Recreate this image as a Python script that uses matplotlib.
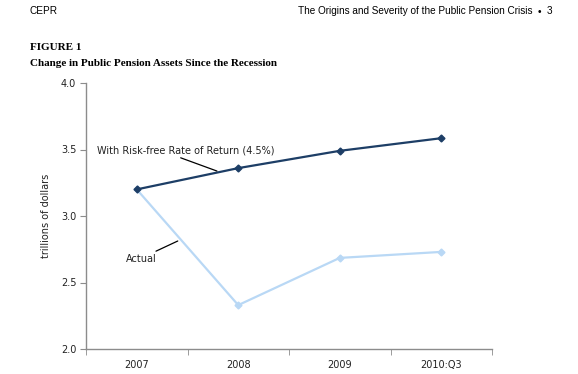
import matplotlib
matplotlib.use("Agg")
import matplotlib.pyplot as plt

years = ["2007", "2008", "2009", "2010:Q3"]
risk_free = [3.20, 3.36, 3.49, 3.585]
actual = [3.20, 2.33, 2.685, 2.73]
y_ticks = [2.0, 2.5, 3.0, 3.5, 4.0]

DARK = "#1d3e66"
LIGHT = "#b9d8f5"
AXIS = "#8c8c8c"

fig = plt.figure(figsize=(5.78, 3.74), dpi=100)
ax = fig.add_axes([86 / 578, 1 - 349 / 374, 406 / 578, 266 / 374])

x = list(range(len(years)))
ax.plot(x, actual, color=LIGHT, lw=1.6, marker="D", ms=3.5, mec=LIGHT, zorder=2)
ax.plot(x, risk_free, color=DARK, lw=1.6, marker="D", ms=3.5, mec=DARK, zorder=3)

ax.set_xlim(-0.5, len(years) - 0.5)
ax.set_ylim(2.0, 4.0)
ax.set_yticks(y_ticks)
ax.set_yticklabels([f"{v:.1f}" for v in y_ticks])
ax.set_xticks(x)
ax.set_xticklabels(years)
ax.set_xticks([i - 0.5 for i in range(len(years) + 1)], minor=True)
ax.tick_params(axis="x", which="major", length=0, pad=8)
ax.tick_params(axis="x", which="minor", length=4, color=AXIS, direction="out")
ax.tick_params(axis="y", length=4, color=AXIS, direction="out", pad=3)
ax.tick_params(labelsize=7, labelcolor="#222222")
for s in ["top", "right"]:
    ax.spines[s].set_visible(False)
for s in ["left", "bottom"]:
    ax.spines[s].set_color(AXIS)
    ax.spines[s].set_linewidth(1.0)

ax.set_ylabel("trillions of dollars", fontsize=7, color="#222222", labelpad=7)

# leader-line labels
ax.annotate("With Risk-free Rate of Return (4.5%)", xy=(0.79, 3.338), xytext=(-0.394, 3.496),
            fontsize=7, ha="left", va="center", color="#222222",
            arrowprops=dict(arrowstyle="-", color="black", lw=0.9, shrinkA=0, shrinkB=0,
                            relpos=(0.43, 0.0)))
ax.annotate("Actual", xy=(0.404, 2.812), xytext=(0.04, 2.677),
            fontsize=7, ha="center", va="center", color="#222222",
            arrowprops=dict(arrowstyle="-", color="black", lw=0.9, shrinkA=0, shrinkB=0,
                            relpos=(0.8, 1.0)))

# page header and figure title
hdr = dict(fontsize=7.2, family="Liberation Sans", va="center")
fig.text(30 / 578, 1 - 11 / 374, "CEPR", ha="left", **hdr)
fig.text(533 / 578, 1 - 11 / 374, "The Origins and Severity of the Public Pension Crisis",
         ha="right", **hdr)
fig.text(539 / 578, 1 - 12 / 374, "\u2022", ha="center", **hdr)
fig.text(552 / 578, 1 - 11 / 374, "3", ha="right", **hdr)
fig.text(30 / 578, 1 - 48 / 374, "FIGURE 1", fontsize=8, family="Liberation Serif",
         weight="bold", va="center", ha="left")
fig.text(30 / 578, 1 - 64 / 374, "Change in Public Pension Assets Since the Recession",
         fontsize=8, family="Liberation Serif", weight="bold", va="center", ha="left")

fig.savefig("out.png", dpi=100)
